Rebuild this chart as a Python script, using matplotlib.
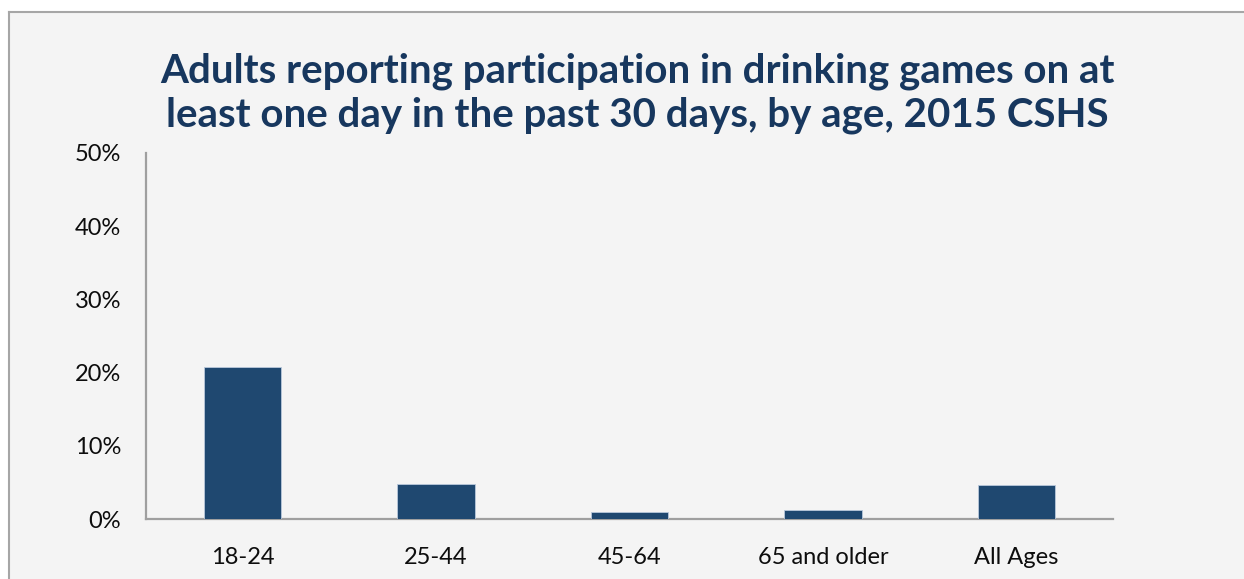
import matplotlib
matplotlib.use("Agg")
import matplotlib.pyplot as plt
from matplotlib.patches import Rectangle
from matplotlib.ticker import FuncFormatter

## data
age_groups = ["18-24", "25-44", "45-64", "65 and older", "All Ages"]
pct_drinking_games = [20.8, 4.8, 1.0, 1.2, 4.6]
y_ticks = [0, 10, 20, 30, 40, 50]

title = ("Adults reporting participation in drinking games on at\n"
         "least one day in the past 30 days, by age, 2015 CSHS")

bg = "#f4f4f4"
navy = "#1f4870"
title_col = "#17375e"
axis_col = "#9f9f9f"

plt.rcParams["font.family"] = ["Lato", "DejaVu Sans"]

W, H = 1244, 579
fig = plt.figure(figsize=(W / 100, H / 100), dpi=100)
fig.patch.set_facecolor("white")

# grey panel with frame on the top and left
fig.add_artist(Rectangle((9 / W, 0), 1.0, 1 - 12 / H, transform=fig.transFigure,
                         facecolor=bg, edgecolor="none", zorder=-10))
fig.add_artist(plt.Line2D([9 / W, 9 / W], [0, 1 - 12 / H], transform=fig.transFigure,
                          color="#a6a6a6", lw=1.5, zorder=-5))
fig.add_artist(plt.Line2D([9 / W, 1], [1 - 12 / H, 1 - 12 / H], transform=fig.transFigure,
                          color="#a6a6a6", lw=1.5, zorder=-5))

ax = fig.add_axes([146 / W, 1 - 519 / H, (1113 - 146) / W, (519 - 153) / H])
ax.set_zorder(2)
ax.set_facecolor(bg)
ax.bar(range(len(age_groups)), pct_drinking_games, width=0.4, color=navy,
       edgecolor="#b9c9dc", linewidth=0.6, zorder=3)

ax.set_xlim(-0.5, len(age_groups) - 0.5)
ax.set_ylim(0, 50)
ax.set_yticks(y_ticks)
ax.yaxis.set_major_formatter(FuncFormatter(lambda v, p: f"{v:.0f}%"))
ax.set_xticks(range(len(age_groups)))
ax.set_xticklabels(age_groups)
ax.tick_params(axis="y", length=0, pad=18, labelsize=17, labelcolor="#0d0d0d")
ax.tick_params(axis="x", length=0, pad=20, labelsize=17, labelcolor="#0d0d0d")

for s in ["top", "right"]:
    ax.spines[s].set_visible(False)
for s in ["left", "bottom"]:
    ax.spines[s].set_color(axis_col)
    ax.spines[s].set_linewidth(1.6)

fig.text(637 / W, 1 - 93 / H, title, ha="center", va="center", fontsize=29,
         fontweight="bold", color=title_col, linespacing=1.2)

fig.savefig("out.png", dpi=100, facecolor=fig.get_facecolor())
